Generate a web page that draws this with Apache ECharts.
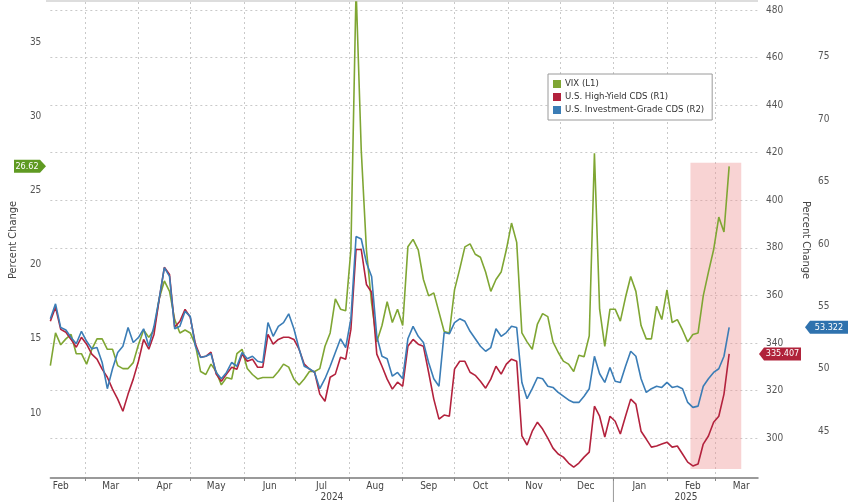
<!DOCTYPE html>
<html><head><meta charset="utf-8">
<script src="https://cdn.jsdelivr.net/npm/echarts@6/dist/echarts.min.js"></script>
<style>html,body{margin:0;padding:0;background:#fff}#c{width:848px;height:502px}</style>
</head><body><div id="c"></div>
<script>
// sampling: one point every 3 calendar days starting 2024-02-10 (x value = days since start)
const startDate = '2024-02-10';
const stepDays = 3;

const vix = [13.2,15.4,14.6,15.0,15.3,14.0,14.0,13.3,14.3,15.0,
15.0,14.3,14.3,13.2,13.0,13.0,13.4,14.6,15.6,15.1,
15.6,17.7,18.9,18.2,16.3,15.4,15.6,15.4,14.6,12.8,
12.6,13.3,12.8,11.9,12.4,12.3,14.0,14.3,13.0,12.6,
12.3,12.4,12.4,12.4,12.8,13.3,13.1,12.3,11.9,12.3,
12.8,12.8,13.0,14.5,15.4,17.7,17.0,16.9,21.0,38.6,
27.7,21.0,17.4,14.8,15.9,17.5,16.1,17.0,15.9,21.2,
21.7,21.0,19.0,17.9,18.1,16.8,15.5,15.4,18.3,19.7,
21.2,21.4,20.7,20.5,19.5,18.2,19.0,19.5,21.0,22.8,
21.5,15.4,14.8,14.3,16.0,16.7,16.5,14.8,14.1,13.5,
13.3,12.8,13.9,13.8,15.2,27.5,17.0,14.5,17.0,17.0,
16.2,17.8,19.2,18.2,15.9,15.0,15.0,17.2,16.3,18.3,
16.1,16.3,15.6,14.8,15.3,15.4,17.9,19.5,21.0,23.2,
22.2,26.62];

const hyCds = [349.1,355.0,345.7,344.5,341.5,338.2,342.4,339.5,335.3,333.2,
329.0,325.6,320.6,316.4,311.3,318.5,324.8,332.3,341.5,337.4,
343.6,358.3,371.8,368.8,346.6,349.1,354.1,350.8,339.5,334.0,
334.4,336.1,326.9,323.9,326.9,329.8,329.0,335.3,332.3,333.2,
329.8,329.8,343.6,339.5,341.5,342.4,342.4,341.5,337.4,331.1,
329.0,327.7,318.5,315.5,325.6,326.9,334.0,333.2,345.7,379.3,
379.3,364.6,361.3,335.3,330.2,324.8,320.6,323.5,321.8,338.6,
341.5,339.5,338.6,327.7,316.4,308.0,309.7,309.2,329.0,332.3,
332.3,327.7,326.4,323.9,321.0,324.8,330.2,326.9,331.1,333.2,
332.3,300.9,297.1,302.9,306.7,303.8,300.0,295.8,293.3,292.0,
289.5,287.8,289.5,292.0,294.1,313.4,309.2,300.4,309.2,307.1,
301.7,309.2,316.4,314.3,302.9,299.6,296.2,296.7,297.5,298.3,
296.2,296.7,293.3,289.9,288.3,289.1,297.5,300.9,306.7,309.2,
318.5,335.407];

const igCds = [54.0,55.2,53.3,53.1,52.5,52.0,53.0,52.2,51.6,51.7,
50.5,48.4,50.0,51.3,51.8,53.3,52.1,52.5,53.2,51.8,
53.4,55.6,58.1,57.4,53.2,53.4,54.6,54.2,51.8,50.9,
51.0,51.2,49.7,49.2,49.7,50.5,50.2,51.3,50.8,51.0,
50.6,50.5,53.7,52.6,53.4,53.7,54.4,53.2,51.6,50.2,
50.0,49.7,48.4,49.2,50.2,51.3,52.4,51.7,54.0,60.6,
60.4,58.5,57.4,52.6,51.0,50.8,49.4,49.7,49.2,52.4,
53.4,52.6,52.1,50.5,49.2,48.6,52.9,52.8,53.7,54.0,
53.8,53.0,52.4,51.8,51.4,51.7,53.2,52.6,52.9,53.4,
53.3,48.9,47.6,48.4,49.3,49.2,48.6,48.5,48.1,47.8,
47.5,47.3,47.3,47.8,48.4,51.0,49.6,48.9,50.1,49.0,
48.9,50.2,51.4,51.0,49.2,48.1,48.4,48.6,48.5,48.9,
48.5,48.6,48.4,47.3,46.9,47.0,48.6,49.2,49.7,50.0,
51.0,53.322];

const seriesNames = ['VIX (L1)','U.S. High-Yield CDS (R1)','U.S. Investment-Grade CDS (R2)'];
// day offsets from startDate
const monthStartDays = [20,51,81,112,142,173,204,234,265,295,326,357,385];
const monthLabelDays = [6,35,66,96,127,157,188,219,249,280,310,341,372,400];
const monthLabels = ['Feb','Mar','Apr','May','Jun','Jul','Aug','Sep','Oct','Nov','Dec','Jan','Feb','Mar'];
const yearLabelDays = [163,368];
const yearLabels = ['2024','2025'];
const yearBreakDay = 326;
const vixTicks = [10,15,20,25,30,35];
const hyTicks = [300,320,340,360,380,400,420,440,460,480];
const igTicks = [45,50,55,60,65,70,75];
const shadeDays = [370.6,400];
const shadeHy = [287,415.8];

const GREEN='#7fa633', RED='#b3223d', BLUE='#3b7db6';
const FONT = "'Liberation Sans Narrow','DejaVu Sans Condensed','Liberation Sans',sans-serif";
const toPairs = arr => arr.map((v,i)=>[i*stepDays, v]);

const chart = echarts.init(document.getElementById('c'), null, {renderer:'canvas'});
const xCommon = {type:'value', min:0, max:409.7, gridIndex:0};
chart.setOption({
  animation:false,
  backgroundColor:'#fff',
  grid:{left:46,right:90,top:2,bottom:23,containLabel:false},
  legend:{
    orient:'vertical', left:548, top:74, backgroundColor:'#fff',
    borderColor:'#9a9a9a', borderWidth:1, padding:[5,8,5,5], itemGap:3,
    itemWidth:8, itemHeight:8, icon:'rect',
    textStyle:{fontSize:9.5, color:'#333', fontFamily:FONT, padding:[0,0,0,-1]},
    data:seriesNames
  },
  xAxis:[
    Object.assign({}, xCommon, {
      position:'bottom',
      axisLine:{show:true, lineStyle:{color:'#7a7a7a', width:1.5}},
      axisTick:{show:true, length:3, customValues:monthStartDays, lineStyle:{color:'#888'}},
      axisLabel:{show:false},
      splitLine:{show:true, lineStyle:{color:'#c9c9c9', type:[2,3], width:1}}
    }),
    Object.assign({}, xCommon, {
      position:'bottom',
      axisLine:{show:false}, axisTick:{show:false}, splitLine:{show:false},
      axisLabel:{show:true, customValues:monthLabelDays, margin:3, fontSize:10, color:'#444', fontFamily:FONT,
        formatter:v=>monthLabels[monthLabelDays.indexOf(v)]}
    }),
    Object.assign({}, xCommon, {
      position:'bottom',
      axisLine:{show:false}, axisTick:{show:false}, splitLine:{show:false},
      axisLabel:{show:true, customValues:yearLabelDays, margin:14, fontSize:10, color:'#444', fontFamily:FONT,
        formatter:v=>yearLabels[yearLabelDays.indexOf(v)]}
    })
  ],
  yAxis:[
    {type:'value', position:'left', min:5.63, max:37.69,
     name:'Percent Change', nameLocation:'middle', nameGap:30, nameRotate:90,
     nameTextStyle:{fontSize:11, color:'#444', fontFamily:FONT},
     axisLine:{show:false}, axisTick:{show:false, customValues:vixTicks}, splitLine:{show:false},
     axisLabel:{customValues:vixTicks, margin:9, fontSize:10, color:'#555', fontFamily:FONT}},
    {type:'value', position:'right', min:283.23, max:483.36, splitNumber:10,
     name:'Percent Change', nameLocation:'middle', nameGap:42, nameRotate:-90,
     nameTextStyle:{fontSize:11, color:'#444', fontFamily:FONT},
     axisLine:{show:false}, axisTick:{show:false, customValues:hyTicks},
     splitLine:{show:true, lineStyle:{color:'#c9c9c9', type:[2,3], width:1}},
     axisLabel:{customValues:hyTicks, margin:8, fontSize:10, color:'#555', fontFamily:FONT}},
    {type:'value', position:'right', offset:52, min:41.24, max:79.4,
     axisLine:{show:false}, axisTick:{show:false, customValues:igTicks}, splitLine:{show:false},
     axisLabel:{customValues:igTicks, margin:8, fontSize:10, color:'#555', fontFamily:FONT}}
  ],
  series:[
    {name:seriesNames[0], type:'line', xAxisIndex:0, yAxisIndex:0, data:toPairs(vix),
     showSymbol:false, color:GREEN, lineStyle:{width:1.6, color:GREEN}, z:3},
    {name:seriesNames[1], type:'line', xAxisIndex:0, yAxisIndex:1, data:toPairs(hyCds),
     showSymbol:false, color:RED, lineStyle:{width:1.6, color:RED}, z:4,
     markArea:{silent:true, itemStyle:{color:'rgba(238,150,150,0.42)'},
       data:[[{coord:[shadeDays[0], shadeHy[1]]},{coord:[shadeDays[1], shadeHy[0]]}]]}},
    {name:seriesNames[2], type:'line', xAxisIndex:0, yAxisIndex:2, data:toPairs(igCds),
     showSymbol:false, color:BLUE, lineStyle:{width:1.6, color:BLUE}, z:5}
  ]
});

// last-value tags and year separator, positioned through the axes
function tagLeft(y, color, text){
  return {type:'group', children:[
    {type:'polygon', shape:{points:[[14,y-6.5],[40,y-6.5],[46,y],[40,y+6.5],[14,y+6.5]]}, style:{fill:color}},
    {type:'text', x:27, y:y, style:{text:text, fill:'#fff', font:'9px '+FONT, align:'center', verticalAlign:'middle'}}
  ]};
}
function tagRight(x0, x1, y, color, text){
  return {type:'group', children:[
    {type:'polygon', shape:{points:[[x0,y],[x0+5,y-6.5],[x1,y-6.5],[x1,y+6.5],[x0+5,y+6.5]]}, style:{fill:color}},
    {type:'text', x:(x0+5+x1)/2, y:y, style:{text:text, fill:'#fff', font:'9px '+FONT, align:'center', verticalAlign:'middle'}}
  ]};
}
const yV = chart.convertToPixel({yAxisIndex:0}, vix[vix.length-1]);
const yH = chart.convertToPixel({yAxisIndex:1}, hyCds[hyCds.length-1]);
const yI = chart.convertToPixel({yAxisIndex:2}, igCds[igCds.length-1]);
const xBreak = chart.convertToPixel({xAxisIndex:0}, yearBreakDay);
chart.setOption({graphic:[
  tagLeft(yV, '#5f9a22', String(vix[vix.length-1])),
  tagRight(759, 801, yH, '#b0233b', String(hyCds[hyCds.length-1])),
  tagRight(805, 848, yI, '#2f72ae', String(igCds[igCds.length-1])),
  {type:'line', shape:{x1:xBreak, y1:479, x2:xBreak, y2:502}, style:{stroke:'#999', lineWidth:1}},
  {type:'line', shape:{x1:46, y1:1, x2:758, y2:1}, style:{stroke:'#bbb', lineWidth:1}}
]});
</script>
</body></html>
